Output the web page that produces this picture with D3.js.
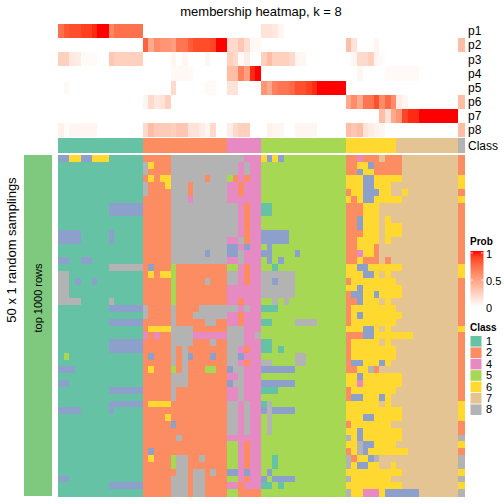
<!DOCTYPE html>
<html><head><meta charset="utf-8">
<script src="https://cdn.jsdelivr.net/npm/d3@7"></script>
<style>body{margin:0;background:#fff}svg{display:block;font-family:"Liberation Sans",Arial,Helvetica,sans-serif}</style>
</head><body><svg id="c" width="504" height="504"></svg>
<script>
// ---------- data ----------
const probNames = ["p1","p2","p3","p4","p5","p6","p7","p8"];
const p1 = [0.72,0.82,0.85,0.85,0.9,0.9,0.95,1,1,0.62,0.72,0.72,
            0.72,0.72,0.72,0,0,0,0,0,0,0,0,0,
            0,0,0,0,0,0,0,0,0,0,0,0,
            0.15,0.15,0.12,0.05,0,0,0,0,0,0,0,0,
            0,0,0,0,0,0,0,0,0,0,0,0,
            0,0,0,0,0,0,0,0,0,0,0,0];
const p2 = [0,0,0,0,0,0,0,0,0,0,0,0,
            0,0,0,0.78,0.45,0.6,0.55,0.55,0.5,0.7,0.7,0.8,
            0.86,0.86,0.86,0.88,1,1,0.2,0.2,0.3,0.18,0.04,0.04,
            0,0,0,0,0,0,0,0,0,0,0,0,
            0,0,0,0.35,0.15,0,0,0,0.05,0,0,0,
            0,0,0,0,0,0,0,0,0,0,0,0.35];
const p3 = [0.25,0.25,0.12,0.1,0.03,0.03,0.03,0,0,0.3,0.25,0.25,
            0.25,0.25,0.25,0,0,0,0,0,0.05,0,0.05,0,
            0,0,0.05,0,0,0,0.25,0.2,0.03,0.1,0,0,
            0.25,0.35,0.25,0.25,0.25,0.2,0.05,0.05,0,0,0,0,
            0,0,0,0,0.05,0.2,0.2,0.25,0.05,0.02,0,0,
            0,0,0,0,0,0,0,0,0,0,0,0];
const p4 = [0,0,0,0,0,0,0,0,0,0,0,0,
            0,0,0,0,0,0,0,0,0.04,0.04,0.04,0.03,
            0,0,0,0,0,0,0.35,0.35,0.65,0.5,0.95,1,
            0,0,0,0,0,0,0,0,0,0,0,0,
            0,0,0,0,0,0.05,0,0,0,0,0.03,0.03,
            0.03,0.03,0.03,0.03,0,0,0,0,0,0,0,0];
const p5 = [0,0.03,0,0,0,0,0,0,0,0,0,0,
            0,0,0,0,0,0,0,0,0.2,0,0,0,
            0,0,0.03,0.03,0,0,0.15,0.15,0,0,0,0,
            0.55,0.45,0.65,0.7,0.7,0.75,0.85,0.85,0.9,0.95,1,1,
            1,1,1,0,0,0,0,0,0,0,0,0,
            0,0,0,0,0,0,0,0,0,0,0,0];
const p6 = [0,0,0,0,0,0,0,0,0,0,0,0,
            0,0,0,0.05,0.2,0.12,0.15,0.25,0,0,0,0,
            0,0,0,0,0,0,0,0,0,0,0,0,
            0,0,0,0,0,0,0,0,0,0,0,0,
            0,0,0,0.45,0.6,0.45,0.7,0.7,0.85,0.6,0.75,0.6,
            0.1,0.05,0,0,0,0,0,0,0,0,0,0.35];
const p7 = [0,0,0,0,0,0,0,0,0,0,0,0,
            0,0,0,0,0,0,0,0,0,0,0,0,
            0,0,0,0,0,0,0,0,0,0,0,0,
            0,0,0,0,0,0,0,0,0,0,0,0,
            0,0,0,0,0,0,0,0,0,0.35,0.15,0.45,
            0.55,0.88,0.95,0.95,1,1,1,1,1,1,1,0];
const p8 = [0.08,0.02,0.05,0.05,0.05,0.05,0.05,0,0,0,0,0,
            0,0,0,0.2,0.35,0.28,0.28,0.28,0.25,0.3,0.3,0.15,
            0.15,0.1,0.05,0.2,0,0,0.1,0.2,0.25,0.25,0,0,
            0,0.07,0.05,0.05,0,0,0.05,0.05,0.05,0.05,0,0,
            0,0,0,0.35,0.3,0.35,0.15,0.1,0.07,0.05,0,0,
            0,0,0,0,0,0,0,0,0,0,0,0.35];
const probs = [p1,p2,p3,p4,p5,p6,p7,p8];

const classLevels = ["1","2","4","5","6","7","8"];
const sampleClass = "111111111111111 222222222222222 444444 555555555555555 666666666 77777777777 8";

// 50 random samplings (rows) x 72 samples (columns): class label per cell
const samplings = [
"336633666111111 222228888888888 888444 636355555555555 224222722 27777777777 2",
"111111111111111 862228888888888 884844 555555555555555 226632222 27777777777 2",
"111111111111111 822228888888888 884844 555555555555555 223662222 27777777777 2",
"111111111111111 262668888882888 524244 555555555555555 666336666 67777777777 6",
"111111111111111 822268882888888 442444 555555555555555 666336667 77777777777 6",
"111111111111111 822228882888888 442444 555555555555555 266333667 76777777777 2",
"111111111111111 222228884888888 444444 555555555555555 626336666 67777777777 6",
"111111111333333 222228888888888 884244 115555555555555 222666777 77777777777 2",
"111111111333333 222228888888888 884244 115555555555555 222666777 77777777777 2",
"111111111111111 222228888888888 884244 555555555555555 223666767 77777777777 2",
"111111111111111 222228888888888 884244 555555555555555 223666766 67777777777 2",
"333311111311111 222228888888888 884244 333335555555555 222666766 67777777777 2",
"333311111311111 222228888888888 448244 333335555555555 226666767 77777777777 2",
"111111111111111 222228888888888 334344 535555555555555 226662777 77777777777 2",
"111111111111111 222228888883888 338444 335555355555555 224662777 77777777777 2",
"331133111111111 222228888888888 448444 535355555555555 226222727 77777777777 2",
"111111111888888 232225222222222 554244 551555555555555 663366666 67777777777 6",
"881111111111111 262665222222222 884244 888888555555555 666336767 77777777777 6",
"881311311111111 222225222228222 884244 883888555555555 266666666 77777777777 2",
"881111111111111 222225222222222 444444 888888555555555 663666666 67777777777 2",
"881111111111111 222225222222222 444444 888888555555555 233663666 67777777777 2",
"888811111811111 222225222222222 442444 558585555555555 223666767 77777777777 2",
"111111111333333 822228222288888 884844 111555555555555 266666666 77777777777 2",
"111111111111111 822228222888888 442444 555555555555555 263666666 67777777777 2",
"111111111333333 222228222228822 442444 115555888855555 266666666 77777777777 2",
"111111111111111 266668888222222 888444 555555555555555 666336767 77777777777 6",
"111111111111111 424228888444444 888448 555555555555555 222336666 66677777777 2",
"111111111333333 222228888222822 888444 115555555555555 266666767 77777777777 2",
"111111111333333 222228282222222 884244 115155555555555 266666666 77777777777 2",
"151111111111111 232228283222322 883444 555555885555555 266666666 77777777777 2",
"111111111111111 222228282222222 884244 885555885555555 233666367 77777777777 2",
"333111111111111 262225282225522 388444 333333555555555 226682777 77777777777 2",
"111111111111111 222228882222222 448444 555555555555555 663666666 67777777777 2",
"331111111111111 222228882222222 388444 333333555555555 664666666 67777777777 2",
"111111111333333 222228222222222 448444 111555555555555 266666666 77777777777 2",
"111111111111111 222228222222222 448444 555555555555555 233666367 77777777777 2",
"111111111333333 266662222222222 884844 185555555555555 666666767 77777777777 6",
"333311111311111 222222222222222 884844 383333555555555 666666666 67777777777 6",
"111111111111111 222262222222222 884844 585555555555555 666336666 67777777777 6",
"111111111111111 222223222222222 884844 585555555555555 266666667 77777777777 2",
"111111111111111 222222222222222 884844 585555555555555 663666666 67777777777 2",
"111111111111111 222222822222222 444444 555555555555555 863666666 67777777777 8",
"111111111111111 222222222222222 554244 555555555555555 668336666 77777777777 6",
"111111111111111 232222222222222 554244 555555555555555 268366666 66777777777 2",
"111111111111111 262225882282222 554244 551555555555555 826638777 77777777777 8",
"111111111111111 222225882222222 554244 551555555555555 863366776 77777777777 8",
"111111111111111 222222882882822 334344 535555555555555 666666666 67777777777 6",
"331111111111111 222228882882222 554244 353333555555555 866666667 77777777777 8",
"111111111333333 222228882882222 442444 115155555555555 666666666 67777777777 6",
"111111111111111 222228882882222 552222 555555555555555 866444633 33337777777 8"
];

const classColors = {"1":"#66C2A5","2":"#FC8D62","3":"#8DA0CB","4":"#E78AC3","5":"#A6D854","6":"#FFD92F","7":"#E5C494","8":"#B3B3B3"};
const legendTicks = [1, 0.5, 0];

// ---------- drawing ----------
const svg = d3.select("#c");
const cols = sampleClass.replace(/ /g,"").split("");
const nCol = cols.length;
const grid = samplings.map(r => r.replace(/ /g,"").split(""));

const x = d3.scaleBand().domain(d3.range(nCol)).range([58, 464]);
const yP = d3.scaleBand().domain(probNames).range([24, 137]);
const yM = d3.scaleBand().domain(d3.range(grid.length)).range([155, 496]);
const probColor = d3.scaleLinear().domain([0,1]).range(["#ffffff","#ff0000"]).interpolate(d3.interpolateLab);

svg.append("text").attr("x", 261).attr("y", 16).attr("text-anchor","middle")
  .attr("font-size", 13).text("membership heatmap, k = 8");

// probability heatmap
const gp = svg.append("g").attr("shape-rendering","crispEdges");
probs.forEach((arr, i) => {
  gp.selectAll(null).data(arr).enter().append("rect")
    .attr("x", (d,j) => x(j)).attr("y", yP(probNames[i]))
    .attr("width", x.bandwidth()+0.5).attr("height", yP.bandwidth()+0.3)
    .attr("fill", d => probColor(d));
});
// class annotation row
gp.selectAll(null).data(cols).enter().append("rect")
  .attr("x", (d,j) => x(j)).attr("y", 138).attr("width", x.bandwidth()+0.5).attr("height", 15)
  .attr("fill", d => classColors[d]);

// labels on the right
svg.append("g").selectAll("text").data(probNames).enter().append("text")
  .attr("x", 468).attr("y", d => yP(d) + yP.bandwidth()/2 + 4.3)
  .attr("font-size", 12).text(d => d);
svg.append("text").attr("x", 468).attr("y", 149.5).attr("font-size", 12).text("Class");

// main heatmap
const gm = svg.append("g").attr("shape-rendering","crispEdges");
grid.forEach((row, i) => {
  gm.selectAll(null).data(row).enter().append("rect")
    .attr("x", (d,j) => x(j)).attr("y", yM(i))
    .attr("width", x.bandwidth()+0.5).attr("height", yM.bandwidth()+0.5)
    .attr("fill", d => classColors[d]);
});

// left annotation
svg.append("rect").attr("x", 24).attr("y", 155).attr("width", 28).attr("height", 341).attr("fill", "#7FC97F");
svg.append("text").attr("transform","translate(42,298) rotate(-90)").attr("text-anchor","middle")
  .attr("font-size", 11).text("top 1000 rows");
svg.append("text").attr("transform","translate(16,250) rotate(-90)").attr("text-anchor","middle")
  .attr("font-size", 13).text("50 x 1 random samplings");

// Prob legend
const defs = svg.append("defs");
const lg = defs.append("linearGradient").attr("id","pg").attr("x1",0).attr("y1",1).attr("x2",0).attr("y2",0);
d3.range(0, 1.0001, 0.1).forEach(t => lg.append("stop").attr("offset", t).attr("stop-color", probColor(t)));
svg.append("text").attr("x", 470).attr("y", 245).attr("font-size", 10).attr("font-weight","bold").text("Prob");
const yL = d3.scaleLinear().domain([0,1]).range([307, 253]);
svg.append("rect").attr("x", 470.5).attr("y", 251).attr("width", 13).attr("height", 56).attr("fill","url(#pg)");
legendTicks.forEach(t => {
  svg.append("line").attr("x1",470.5).attr("x2",473).attr("y1",yL(t)).attr("y2",yL(t)).attr("stroke","#fff").attr("stroke-width",0.8);
  svg.append("line").attr("x1",481).attr("x2",483.5).attr("y1",yL(t)).attr("y2",yL(t)).attr("stroke","#fff").attr("stroke-width",0.8);
  svg.append("text").attr("x", 486).attr("y", yL(t) + 5).attr("font-size", 11).text(t === 0.5 ? "0.5" : String(t));
});

// Class legend
svg.append("text").attr("x", 470).attr("y", 331).attr("font-size", 10).attr("font-weight","bold").text("Class");
const lgC = svg.append("g");
classLevels.forEach((c, i) => {
  const yy = 336 + i * 11.4;
  lgC.append("rect").attr("x", 470.5).attr("y", yy).attr("width", 11).attr("height", 10.6).attr("fill", classColors[c]);
  lgC.append("text").attr("x", 486).attr("y", yy + 9).attr("font-size", 11).text(c);
});
</script>
</body></html>
